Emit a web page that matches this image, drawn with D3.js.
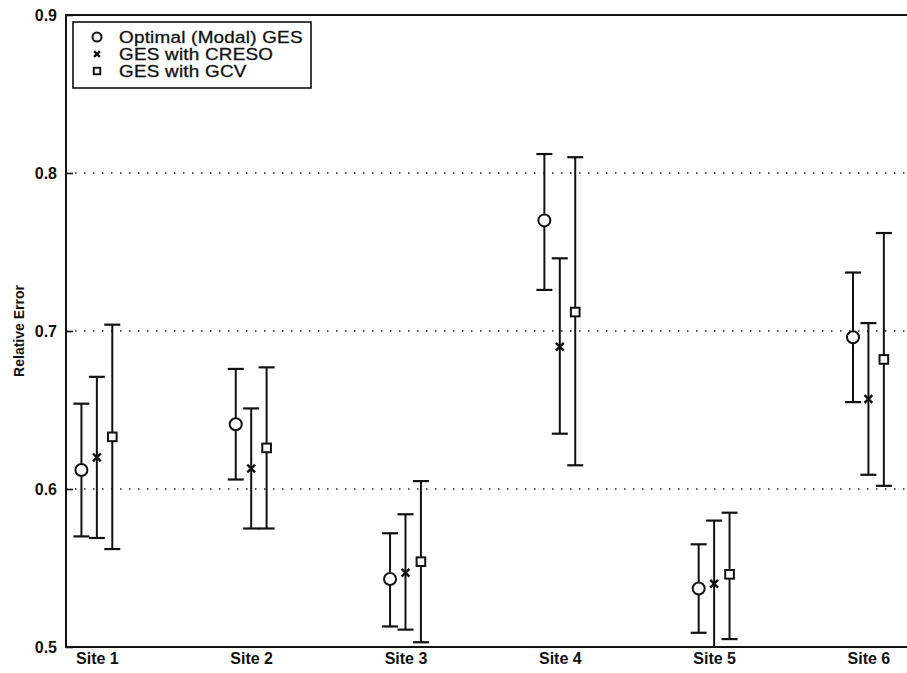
<!DOCTYPE html>
<html>
<head>
<meta charset="utf-8">
<script src="https://cdn.jsdelivr.net/npm/d3@7"></script>
<style>
  body { margin: 0; background: #fff; }
  text { font-family: "Liberation Sans", Arial, sans-serif; fill: #111; }
</style>
</head>
<body>
<div id="chart"></div>
<script>
const sites = ["Site 1", "Site 2", "Site 3", "Site 4", "Site 5", "Site 6"];

const optimalMid  = [0.612, 0.641, 0.543, 0.770, 0.537, 0.696];
const optimalLow  = [0.570, 0.606, 0.513, 0.726, 0.509, 0.655];
const optimalHigh = [0.654, 0.676, 0.572, 0.812, 0.565, 0.737];

const cresoMid  = [0.620, 0.613, 0.547, 0.690, 0.540, 0.657];
const cresoLow  = [0.569, 0.575, 0.511, 0.635, 0.490, 0.609];
const cresoHigh = [0.671, 0.651, 0.584, 0.746, 0.580, 0.705];

const gcvMid  = [0.633, 0.626, 0.554, 0.712, 0.546, 0.682];
const gcvLow  = [0.562, 0.575, 0.503, 0.615, 0.505, 0.602];
const gcvHigh = [0.704, 0.677, 0.605, 0.810, 0.585, 0.762];

const seriesNames = ["Optimal (Modal) GES", "GES with CRESO", "GES with GCV"];
const yTicks = [0.5, 0.6, 0.7, 0.8, 0.9];
const gridValues = [0.6, 0.7, 0.8];

const width = 907;
const height = 673;
const plotLeft = 66, plotTop = 15, plotBottom = 647;

const svg = d3.select('#chart')
    .append('svg')
    .attr('width', width)
    .attr('height', height);

svg.append('rect')
    .attr('width', width)
    .attr('height', height)
    .attr('fill', '#fff');

const x = d3.scaleLinear().domain([0.8, 6.25]).range([plotLeft, width]);
const y = d3.scaleLinear().domain([0.5, 0.9]).range([plotBottom, plotTop]);

svg.append('clipPath').attr('id', 'plot')
  .append('rect')
    .attr('x', plotLeft).attr('y', plotTop)
    .attr('width', width - plotLeft).attr('height', plotBottom - plotTop);

// dotted grid
svg.append('g').selectAll('line')
  .data(gridValues)
  .join('line')
    .attr('x1', plotLeft).attr('x2', width)
    .attr('y1', d => y(d)).attr('y2', d => y(d))
    .attr('stroke', '#222')
    .attr('stroke-width', 1.5)
    .attr('stroke-dasharray', '1.5,7.5');

// axes frame
svg.append('path')
    .attr('d', `M${width},${plotTop}H${plotLeft}V${plotBottom}H${width}`)
    .attr('fill', 'none')
    .attr('stroke', '#111')
    .attr('stroke-width', 2);

const yAxis = svg.append('g')
    .attr('transform', `translate(${plotLeft},0)`)
    .call(d3.axisLeft(y).tickValues(yTicks).tickFormat(d3.format('.1f'))
      .tickSizeInner(-7).tickSizeOuter(0).tickPadding(9));
yAxis.select('.domain').remove();
yAxis.selectAll('line').attr('stroke', '#111').attr('stroke-width', 1.6);
yAxis.selectAll('text')
    .style('font-size', '16px')
    .style('font-weight', 'bold')
    .style('font-family', '"Liberation Sans", Arial, sans-serif')
    .attr('fill', '#111');

const xAxis = svg.append('g')
    .attr('transform', `translate(0,${plotBottom})`)
    .call(d3.axisBottom(x).tickValues(d3.range(1, sites.length + 1))
      .tickFormat(d => sites[d - 1]).tickSize(0).tickPadding(6));
xAxis.select('.domain').remove();
xAxis.selectAll('text')
    .style('font-size', '16px')
    .style('font-weight', 'bold')
    .style('font-family', '"Liberation Sans", Arial, sans-serif')
    .attr('fill', '#111');

svg.append('text')
    .attr('transform', `translate(19,${(plotTop + plotBottom) / 2}) rotate(-90)`)
    .attr('text-anchor', 'middle')
    .attr('dy', '0.35em')
    .style('font-size', '14px')
    .style('font-weight', 'bold')
    .text('Relative Error');

const series = [
  { mid: optimalMid, low: optimalLow, high: optimalHigh, shape: 'circle', offset: -0.1 },
  { mid: cresoMid, low: cresoLow, high: cresoHigh, shape: 'cross', offset: 0 },
  { mid: gcvMid, low: gcvLow, high: gcvHigh, shape: 'square', offset: 0.1 }
];

function drawMarker(g, shape, size) {
  if (shape === 'circle') {
    g.append('circle').attr('r', size).attr('fill', '#fff')
      .attr('stroke', '#111').attr('stroke-width', 2);
  } else if (shape === 'square') {
    g.append('rect').attr('x', -size * 0.72).attr('y', -size * 0.72)
      .attr('width', size * 1.44).attr('height', size * 1.44)
      .attr('fill', '#fff').attr('stroke', '#111').attr('stroke-width', 2);
  } else {
    const s = size * 0.65;
    g.append('path').attr('d', `M${-s},${-s}L${s},${s}M${-s},${s}L${s},${-s}`)
      .attr('stroke', '#111').attr('stroke-width', 2.4);
  }
}

const plot = svg.append('g').attr('clip-path', 'url(#plot)');
const capHalf = 8;

series.forEach(s => {
  const g = plot.append('g');
  const idx = d3.range(sites.length);
  const cx = i => x(i + 1 + s.offset);

  g.selectAll('line.stem').data(idx).join('line')
    .attr('class', 'stem')
    .attr('x1', cx).attr('x2', cx)
    .attr('y1', i => y(s.low[i])).attr('y2', i => y(s.high[i]))
    .attr('stroke', '#111').attr('stroke-width', 2);

  g.selectAll('line.capH').data(idx).join('line')
    .attr('class', 'capH')
    .attr('x1', i => cx(i) - capHalf).attr('x2', i => cx(i) + capHalf)
    .attr('y1', i => y(s.high[i])).attr('y2', i => y(s.high[i]))
    .attr('stroke', '#111').attr('stroke-width', 2.2);

  g.selectAll('line.capL').data(idx).join('line')
    .attr('class', 'capL')
    .attr('x1', i => cx(i) - capHalf).attr('x2', i => cx(i) + capHalf)
    .attr('y1', i => y(s.low[i])).attr('y2', i => y(s.low[i]))
    .attr('stroke', '#111').attr('stroke-width', 2.2);

  idx.forEach(i => {
    const m = g.append('g').attr('transform', `translate(${cx(i)},${y(s.mid[i])})`);
    drawMarker(m, s.shape, 6);
  });
});

// legend
const legend = svg.append('g').attr('transform', 'translate(73,22)');
legend.append('rect')
    .attr('width', 238).attr('height', 66)
    .attr('fill', '#fff')
    .attr('stroke', '#111').attr('stroke-width', 1.6);

seriesNames.forEach((name, i) => {
  const row = legend.append('g').attr('transform', `translate(24,${15 + i * 17})`);
  drawMarker(row, series[i].shape, 4.5);
  row.append('text')
    .attr('transform', 'translate(22,0) scale(1.18,1)')
    .attr('dy', '0.36em')
    .style('font-size', '16px')
    .style('letter-spacing', '0.2px')
    .style('stroke', '#111')
    .style('stroke-width', 0.3)
    .text(name);
});
</script>
</body>
</html>
